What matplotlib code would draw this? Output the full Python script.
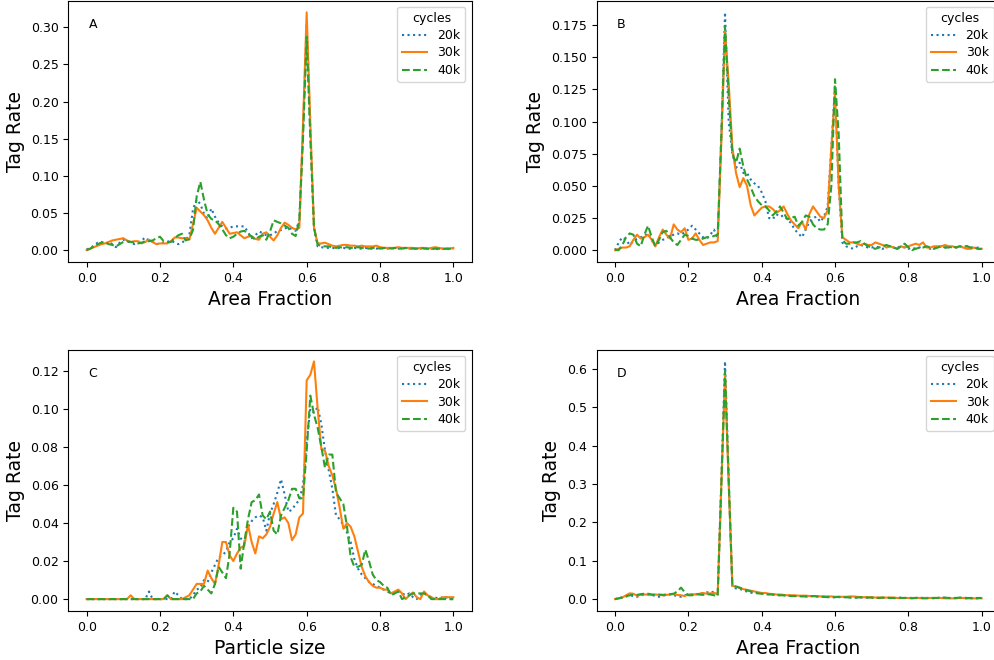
import numpy as np
import matplotlib
matplotlib.use('Agg')
from matplotlib import pyplot as plt

x = np.linspace(0, 1, 101)
labels = ['20k', '30k', '40k']

# panel A - area fraction
a_20k = [0.001, 0.003, 0.006, 0.010, 0.011, 0.008, 0.011, 0.008, 0.004, 0.010,
         0.014, 0.012, 0.010, 0.008, 0.010, 0.013, 0.017, 0.013, 0.011, 0.008,
         0.009, 0.010, 0.011, 0.013, 0.010, 0.008, 0.010, 0.014, 0.020, 0.055,
         0.068, 0.062, 0.049, 0.042, 0.056, 0.045, 0.037, 0.032, 0.029, 0.030,
         0.032, 0.032, 0.032, 0.032, 0.024, 0.016, 0.020, 0.025, 0.023, 0.020,
         0.020, 0.022, 0.026, 0.027, 0.029, 0.031, 0.028, 0.026, 0.040, 0.160,
         0.305, 0.160, 0.030, 0.005, 0.004, 0.003, 0.003, 0.003, 0.002, 0.003,
         0.003, 0.002, 0.002, 0.003, 0.002, 0.002, 0.003, 0.002, 0.002, 0.002,
         0.003, 0.002, 0.002, 0.003, 0.002, 0.002, 0.002, 0.003, 0.002, 0.002,
         0.002, 0.002, 0.003, 0.002, 0.002, 0.002, 0.001, 0.002, 0.002, 0.001,
         0.002]
a_30k = [0.000, 0.002, 0.004, 0.006, 0.008, 0.009, 0.011, 0.013, 0.014, 0.015,
         0.016, 0.013, 0.011, 0.012, 0.012, 0.009, 0.011, 0.014, 0.011, 0.008,
         0.009, 0.009, 0.009, 0.012, 0.017, 0.017, 0.016, 0.016, 0.014, 0.035,
         0.057, 0.052, 0.047, 0.040, 0.030, 0.022, 0.030, 0.038, 0.030, 0.022,
         0.023, 0.024, 0.020, 0.016, 0.018, 0.019, 0.015, 0.014, 0.022, 0.024,
         0.018, 0.013, 0.020, 0.030, 0.037, 0.034, 0.030, 0.028, 0.030, 0.170,
         0.320, 0.170, 0.030, 0.009, 0.009, 0.010, 0.008, 0.006, 0.005, 0.006,
         0.007, 0.007, 0.006, 0.006, 0.005, 0.006, 0.005, 0.005, 0.005, 0.006,
         0.004, 0.003, 0.003, 0.003, 0.003, 0.004, 0.003, 0.003, 0.003, 0.003,
         0.002, 0.003, 0.003, 0.002, 0.003, 0.004, 0.003, 0.002, 0.002, 0.002,
         0.003]
a_40k = [0.000, 0.002, 0.005, 0.008, 0.010, 0.011, 0.008, 0.007, 0.005, 0.008,
         0.011, 0.012, 0.011, 0.010, 0.009, 0.010, 0.012, 0.012, 0.013, 0.016,
         0.018, 0.012, 0.011, 0.011, 0.016, 0.020, 0.022, 0.013, 0.015, 0.027,
         0.072, 0.092, 0.068, 0.048, 0.042, 0.040, 0.035, 0.028, 0.020, 0.016,
         0.018, 0.022, 0.025, 0.026, 0.022, 0.018, 0.014, 0.018, 0.020, 0.014,
         0.025, 0.040, 0.038, 0.036, 0.033, 0.030, 0.022, 0.019, 0.040, 0.150,
         0.287, 0.150, 0.030, 0.007, 0.006, 0.005, 0.005, 0.004, 0.003, 0.004,
         0.003, 0.004, 0.003, 0.003, 0.004, 0.003, 0.003, 0.002, 0.003, 0.003,
         0.002, 0.003, 0.003, 0.002, 0.003, 0.002, 0.002, 0.003, 0.002, 0.002,
         0.002, 0.003, 0.002, 0.002, 0.001, 0.002, 0.002, 0.001, 0.002, 0.002,
         0.002]

# panel B - area fraction
b_20k = [0.000, 0.006, 0.010, 0.008, 0.004, 0.007, 0.009, 0.010, 0.011, 0.013,
         0.008, 0.003, 0.006, 0.008, 0.009, 0.011, 0.012, 0.013, 0.012, 0.014,
         0.016, 0.019, 0.016, 0.013, 0.010, 0.009, 0.012, 0.016, 0.009, 0.090,
         0.185, 0.100, 0.075, 0.064, 0.068, 0.060, 0.060, 0.055, 0.052, 0.050,
         0.045, 0.038, 0.025, 0.024, 0.028, 0.026, 0.027, 0.024, 0.021, 0.016,
         0.013, 0.010, 0.016, 0.022, 0.025, 0.026, 0.022, 0.026, 0.034, 0.080,
         0.128, 0.050, 0.006, 0.003, 0.002, 0.001, 0.003, 0.004, 0.003, 0.002,
         0.002, 0.003, 0.002, 0.001, 0.002, 0.003, 0.002, 0.002, 0.003, 0.002,
         0.001, 0.002, 0.001, 0.002, 0.003, 0.002, 0.001, 0.002, 0.002, 0.003,
         0.002, 0.003, 0.002, 0.002, 0.003, 0.002, 0.003, 0.002, 0.002, 0.002,
         0.003]
b_30k = [0.000, 0.001, 0.002, 0.002, 0.003, 0.008, 0.012, 0.009, 0.010, 0.012,
         0.008, 0.003, 0.010, 0.016, 0.012, 0.009, 0.020, 0.016, 0.014, 0.017,
         0.008, 0.009, 0.013, 0.008, 0.004, 0.005, 0.006, 0.006, 0.007, 0.085,
         0.170, 0.130, 0.080, 0.060, 0.049, 0.056, 0.050, 0.035, 0.027, 0.030,
         0.033, 0.034, 0.034, 0.032, 0.029, 0.031, 0.034, 0.028, 0.023, 0.020,
         0.017, 0.022, 0.016, 0.028, 0.034, 0.030, 0.026, 0.025, 0.031, 0.080,
         0.122, 0.050, 0.010, 0.008, 0.006, 0.006, 0.005, 0.004, 0.005, 0.004,
         0.004, 0.006, 0.005, 0.004, 0.002, 0.003, 0.002, 0.001, 0.003, 0.002,
         0.003, 0.004, 0.005, 0.004, 0.006, 0.002, 0.002, 0.003, 0.003, 0.003,
         0.004, 0.003, 0.003, 0.002, 0.003, 0.002, 0.001, 0.001, 0.002, 0.001,
         0.001]
b_40k = [0.000, 0.000, 0.004, 0.010, 0.013, 0.012, 0.005, 0.003, 0.012, 0.019,
         0.010, 0.003, 0.008, 0.014, 0.015, 0.010, 0.006, 0.004, 0.008, 0.012,
         0.011, 0.009, 0.008, 0.008, 0.009, 0.010, 0.010, 0.011, 0.012, 0.090,
         0.174, 0.120, 0.075, 0.068, 0.079, 0.065, 0.055, 0.049, 0.042, 0.038,
         0.035, 0.034, 0.031, 0.027, 0.030, 0.034, 0.029, 0.024, 0.025, 0.026,
         0.019, 0.022, 0.027, 0.026, 0.020, 0.017, 0.016, 0.016, 0.020, 0.050,
         0.133, 0.090, 0.008, 0.005, 0.005, 0.006, 0.006, 0.007, 0.005, 0.003,
         0.002, 0.001, 0.002, 0.003, 0.004, 0.003, 0.002, 0.001, 0.003, 0.005,
         0.002, 0.000, 0.001, 0.002, 0.002, 0.003, 0.002, 0.001, 0.002, 0.003,
         0.002, 0.002, 0.003, 0.002, 0.003, 0.003, 0.003, 0.002, 0.002, 0.001,
         0.001]

# panel C - particle size
c_20k = [0.000, 0.000, 0.000, 0.000, 0.000, 0.000, 0.000, 0.000, 0.000, 0.000,
         0.000, 0.000, 0.000, 0.000, 0.000, 0.000, 0.000, 0.004, 0.000, 0.000,
         0.000, 0.000, 0.000, 0.000, 0.004, 0.002, 0.000, 0.000, 0.000, 0.002,
         0.005, 0.006, 0.010, 0.009, 0.014, 0.018, 0.022, 0.023, 0.025, 0.030,
         0.032, 0.037, 0.032, 0.030, 0.038, 0.041, 0.043, 0.044, 0.043, 0.036,
         0.045, 0.050, 0.056, 0.063, 0.055, 0.046, 0.047, 0.050, 0.052, 0.060,
         0.083, 0.100, 0.098, 0.101, 0.092, 0.078, 0.068, 0.058, 0.044, 0.042,
         0.039, 0.035, 0.030, 0.021, 0.016, 0.013, 0.011, 0.009, 0.008, 0.007,
         0.006, 0.005, 0.004, 0.003, 0.003, 0.004, 0.003, 0.002, 0.003, 0.001,
         0.000, 0.002, 0.003, 0.002, 0.001, 0.001, 0.000, 0.001, 0.001, 0.000,
         0.000]
c_30k = [0.000, 0.000, 0.000, 0.000, 0.000, 0.000, 0.000, 0.000, 0.000, 0.000,
         0.000, 0.000, 0.002, 0.000, 0.000, 0.000, 0.000, 0.000, 0.000, 0.000,
         0.000, 0.000, 0.002, 0.000, 0.000, 0.000, 0.000, 0.001, 0.002, 0.005,
         0.008, 0.008, 0.008, 0.015, 0.011, 0.008, 0.018, 0.030, 0.030, 0.023,
         0.020, 0.024, 0.027, 0.028, 0.039, 0.030, 0.024, 0.033, 0.032, 0.034,
         0.038, 0.045, 0.051, 0.042, 0.043, 0.040, 0.031, 0.034, 0.043, 0.045,
         0.115, 0.118, 0.125, 0.100, 0.079, 0.078, 0.070, 0.065, 0.058, 0.048,
         0.037, 0.040, 0.038, 0.033, 0.025, 0.017, 0.012, 0.009, 0.007, 0.006,
         0.006, 0.005, 0.005, 0.003, 0.004, 0.005, 0.003, 0.000, 0.002, 0.0035,
         0.001, 0.000, 0.004, 0.002, 0.001, 0.000, 0.000, 0.001, 0.001, 0.001,
         0.001]
c_40k = [0.000, 0.000, 0.000, 0.000, 0.000, 0.000, 0.000, 0.000, 0.000, 0.000,
         0.000, 0.000, 0.000, 0.000, 0.000, 0.000, 0.000, 0.000, 0.000, 0.000,
         0.000, 0.000, 0.002, 0.000, 0.000, 0.000, 0.000, 0.000, 0.000, 0.000,
         0.003, 0.004, 0.007, 0.005, 0.003, 0.008, 0.017, 0.014, 0.011, 0.024,
         0.048, 0.046, 0.016, 0.030, 0.042, 0.051, 0.052, 0.055, 0.044, 0.042,
         0.046, 0.036, 0.034, 0.044, 0.048, 0.052, 0.058, 0.058, 0.053, 0.053,
         0.078, 0.107, 0.097, 0.090, 0.080, 0.069, 0.076, 0.076, 0.056, 0.053,
         0.050, 0.038, 0.022, 0.017, 0.017, 0.018, 0.026, 0.020, 0.013, 0.010,
         0.009, 0.007, 0.006, 0.002, 0.003, 0.004, 0.000, 0.001, 0.002, 0.003,
         0.003, 0.003, 0.003, 0.002, 0.000, 0.000, 0.000, 0.000, 0.000, 0.000,
         0.000]

# panel D - area fraction
d_20k = [0.000, 0.003, 0.005, 0.007, 0.010, 0.008, 0.006, 0.010, 0.011, 0.012,
         0.011, 0.008, 0.006, 0.009, 0.011, 0.012, 0.010, 0.008, 0.006, 0.010,
         0.012, 0.011, 0.013, 0.014, 0.016, 0.018, 0.016, 0.020, 0.012, 0.310,
         0.620, 0.320, 0.030, 0.028, 0.027, 0.022, 0.020, 0.017, 0.015, 0.016,
         0.015, 0.013, 0.013, 0.012, 0.011, 0.010, 0.010, 0.009, 0.009, 0.008,
         0.008, 0.008, 0.007, 0.007, 0.008, 0.007, 0.006, 0.006, 0.006, 0.005,
         0.005, 0.005, 0.006, 0.005, 0.005, 0.004, 0.004, 0.004, 0.005, 0.004,
         0.004, 0.004, 0.003, 0.003, 0.004, 0.003, 0.003, 0.003, 0.004, 0.003,
         0.003, 0.003, 0.003, 0.004, 0.003, 0.003, 0.003, 0.002, 0.003, 0.004,
         0.003, 0.003, 0.002, 0.003, 0.003, 0.002, 0.002, 0.002, 0.002, 0.002,
         0.002]
d_30k = [0.000, 0.002, 0.004, 0.010, 0.015, 0.014, 0.009, 0.011, 0.012, 0.012,
         0.011, 0.012, 0.011, 0.010, 0.011, 0.012, 0.013, 0.011, 0.010, 0.008,
         0.012, 0.013, 0.012, 0.014, 0.016, 0.014, 0.015, 0.016, 0.014, 0.300,
         0.585, 0.300, 0.035, 0.032, 0.029, 0.026, 0.024, 0.022, 0.020, 0.018,
         0.016, 0.016, 0.014, 0.013, 0.012, 0.012, 0.011, 0.010, 0.010, 0.010,
         0.009, 0.009, 0.009, 0.008, 0.008, 0.008, 0.007, 0.007, 0.007, 0.007,
         0.006, 0.006, 0.006, 0.006, 0.007, 0.007, 0.006, 0.005, 0.005, 0.005,
         0.005, 0.004, 0.004, 0.004, 0.004, 0.004, 0.004, 0.003, 0.003, 0.003,
         0.003, 0.003, 0.003, 0.003, 0.003, 0.003, 0.003, 0.003, 0.003, 0.003,
         0.002, 0.002, 0.002, 0.002, 0.003, 0.003, 0.002, 0.002, 0.002, 0.002,
         0.002]
d_40k = [0.000, 0.002, 0.004, 0.007, 0.010, 0.012, 0.011, 0.013, 0.014, 0.014,
         0.012, 0.011, 0.012, 0.011, 0.012, 0.013, 0.014, 0.020, 0.030, 0.018,
         0.010, 0.010, 0.013, 0.012, 0.011, 0.013, 0.012, 0.010, 0.008, 0.300,
         0.595, 0.310, 0.035, 0.033, 0.030, 0.026, 0.023, 0.020, 0.018, 0.015,
         0.014, 0.013, 0.012, 0.012, 0.011, 0.010, 0.010, 0.009, 0.008, 0.008,
         0.008, 0.007, 0.007, 0.007, 0.008, 0.007, 0.006, 0.006, 0.005, 0.005,
         0.005, 0.006, 0.005, 0.005, 0.004, 0.004, 0.004, 0.005, 0.004, 0.004,
         0.004, 0.003, 0.003, 0.004, 0.003, 0.003, 0.003, 0.002, 0.003, 0.003,
         0.003, 0.002, 0.003, 0.003, 0.002, 0.002, 0.003, 0.003, 0.003, 0.004,
         0.004, 0.003, 0.003, 0.003, 0.004, 0.004, 0.003, 0.003, 0.003, 0.003,
         0.003]

styles = [':', '-', '--']
colors = ['tab:blue', 'tab:orange', 'tab:green']

W, H = 995, 660


def panel(rect, series, letter, xlabel):
    # rect in pixels: left, top, right, bottom
    l, t, r, b = rect
    ax = fig.add_axes([l / W, 1 - b / H, (r - l) / W, (b - t) / H])
    for s, lab, ls, c in zip(series, labels, styles, colors):
        ax.plot(x, s, ls, color=c, label=lab, lw=1.5)
    ax.set_xlabel(xlabel, fontsize=13.5)
    ax.set_ylabel('Tag Rate', fontsize=13.5)
    ax.tick_params(labelsize=9)
    ax.text(0.05, 0.895, letter, transform=ax.transAxes, fontsize=9)
    ax.legend(title='cycles', loc='upper right', fontsize=9, title_fontsize=9,
              labelspacing=0.35)
    return ax


fig = plt.figure(figsize=(W / 100, H / 100), dpi=100)
panel((68.3, 0.5, 471.7, 262), [a_20k, a_30k, a_40k], 'A', 'Area Fraction')
panel((596.7, 0.5, 1000, 262), [b_20k, b_30k, b_40k], 'B', 'Area Fraction')
panel((68.3, 349.5, 471.7, 611), [c_20k, c_30k, c_40k], 'C', 'Particle size')
panel((596.7, 349.5, 1000, 611), [d_20k, d_30k, d_40k], 'D', 'Area Fraction')
fig.savefig('out.png', dpi=100)
